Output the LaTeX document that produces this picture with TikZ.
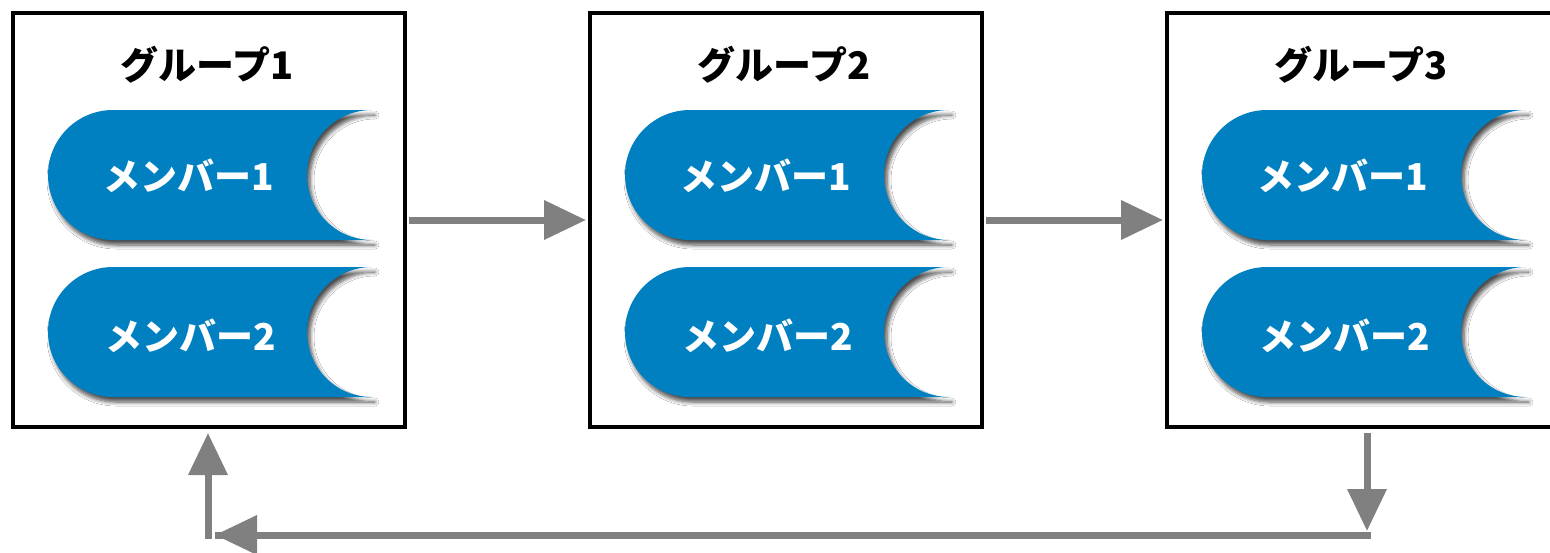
\documentclass[tikz,border=0pt]{standalone}
\usepackage{fontspec}
\IfFontExistsTF{Noto Sans CJK JP Black}
  {\newfontfamily\cjk{Noto Sans CJK JP Black}}
  {\newfontfamily\cjk{Noto Sans CJK JP Bold}[FakeBold=1.5]}
\usetikzlibrary{arrows.meta,shadows.blur}
\definecolor{memberblue}{RGB}{0,128,192}
\definecolor{arrowgray}{RGB}{128,128,128}
\tikzset{
  groupbox/.style={draw=black, line width=2pt, fill=white, minimum width=196pt, minimum height=207pt, inner sep=0pt},
  grouptitle/.style={font=\cjk\fontsize{19pt}{21pt}\selectfont, text=black, inner sep=0pt},
  membertext/.style={font=\cjk\fontsize{18.5pt}{20pt}\selectfont, text=white, inner sep=0pt},
  conn/.style={draw=arrowgray, line width=3.5pt, -{Triangle[length=21pt,width=19pt]}},
  pill/.pic={
    \fill[memberblue, blur shadow={shadow xshift=1.5pt, shadow yshift=-2.5pt, shadow opacity=70, shadow blur radius=2pt, shadow blur steps=6}]
      (259,-65) -- (0,-65) arc[start angle=270,end angle=90,radius=65]
      -- (259,65) arc[start angle=90,end angle=270,radius=65] -- cycle;
  }
}
\begin{document}
\begin{tikzpicture}[x=0.5pt,y=-0.5pt]
\useasboundingbox (0,0) rectangle (1550,552);
\clip (0,0) rectangle (1550,552);
\fill[white] (0,0) rectangle (1550,552);
% groups
\foreach \i/\dx in {1/0,2/577,3/1154}{
  \node[groupbox] (g\i) at (209+\dx,220) {};
  \node[grouptitle] (t\i) at (207+\dx,65) {グループ\i};
  \pic at (113+\dx,175) {pill};
  \pic at (113+\dx,332) {pill};
  \node[membertext] (m\i a) at (189+\dx,176) {メンバー1};
  \node[membertext] (m\i b) at (191+\dx,336) {メンバー2};
}
% connectors
\coordinate (c1) at (1367,535);
\coordinate (c2) at (208,535);
\coordinate (c3) at (215,535);
\draw[conn] ([xshift=1pt]g1.east) -- ([xshift=-1pt]g2.west);
\draw[conn] ([xshift=1pt]g2.east) -- ([xshift=-1pt]g3.west);
\draw[conn] ([yshift=-2pt]g3.south -| c1) -- ([yshift=2pt]c1);
\draw[draw=arrowgray, line width=3.5pt] ([xshift=1.75pt]c1) -- (c3);
\draw[conn] ([yshift=-1.75pt]c2) -- ([yshift=-2pt]g1.south -| c2);
\draw[conn] (c1) -- (c3);
\end{tikzpicture}
\end{document}
